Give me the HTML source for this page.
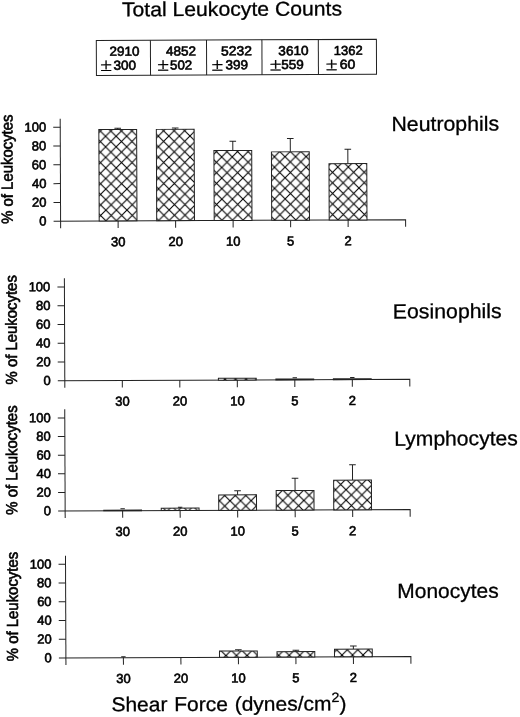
<!DOCTYPE html>
<html lang="en"><head><meta charset="utf-8"><title>Leukocyte counts</title>
<style>html,body{margin:0;padding:0;background:#fff}svg{display:block}text{font-family:"Liberation Sans", sans-serif;fill:#000;stroke:#000;stroke-width:.6px}.big{stroke-width:.3px}.ln{stroke:#222;stroke-width:1;fill:none}.bar{stroke:#222;stroke-width:1}</style></head><body>
<svg width="520" height="717" viewBox="0 0 520 717">
<rect width="520" height="717" fill="#fff"/>
<text class="big" transform="translate(121.9 16.25) rotate(-0.23)" font-size="20" textLength="220.2" lengthAdjust="spacingAndGlyphs">Total Leukocyte Counts</text>
<g transform="translate(96.3 40.5) rotate(-0.23)">
<rect class="ln" x="0" y="0" width="280.1" height="34.9"/>
<path class="ln" d="M54.1 0V34.9"/>
<path class="ln" d="M110.2 0V34.9"/>
<path class="ln" d="M165.6 0V34.9"/>
<path class="ln" d="M222 0V34.9"/>
<text x="13.1" y="15.4" font-size="13" textLength="30.0" lengthAdjust="spacingAndGlyphs">2910</text>
<text x="17.0" y="29.3" font-size="13" textLength="22.7" lengthAdjust="spacingAndGlyphs">300</text>
<text transform="translate(3.9 30.6) scale(1.16 1)" font-size="18.5" style="font-family:'Liberation Serif',serif;stroke-width:.25px">±</text>
<text x="69.6" y="15.4" font-size="13" textLength="30.1" lengthAdjust="spacingAndGlyphs">4852</text>
<text x="73.6" y="29.3" font-size="13" textLength="22.2" lengthAdjust="spacingAndGlyphs">502</text>
<text transform="translate(60.9 30.6) scale(1.16 1)" font-size="18.5" style="font-family:'Liberation Serif',serif;stroke-width:.25px">±</text>
<text x="124.6" y="15.4" font-size="13" textLength="30.9" lengthAdjust="spacingAndGlyphs">5232</text>
<text x="129.1" y="29.3" font-size="13" textLength="22.6" lengthAdjust="spacingAndGlyphs">399</text>
<text transform="translate(115.2 30.6) scale(1.16 1)" font-size="18.5" style="font-family:'Liberation Serif',serif;stroke-width:.25px">±</text>
<text x="182.0" y="15.4" font-size="13" textLength="30.3" lengthAdjust="spacingAndGlyphs">3610</text>
<text x="184.8" y="29.3" font-size="13" textLength="22.6" lengthAdjust="spacingAndGlyphs">559</text>
<text transform="translate(173.4 30.6) scale(1.16 1)" font-size="18.5" style="font-family:'Liberation Serif',serif;stroke-width:.25px">±</text>
<text x="237.4" y="15.4" font-size="13" textLength="28.9" lengthAdjust="spacingAndGlyphs">1362</text>
<text x="243.3" y="29.3" font-size="13" textLength="15.7" lengthAdjust="spacingAndGlyphs">60</text>
<text transform="translate(229.4 30.6) scale(1.16 1)" font-size="18.5" style="font-family:'Liberation Serif',serif;stroke-width:.25px">±</text>
</g>
<g transform="translate(60.6 221.15) rotate(-0.23)">
<defs><pattern id="hx0" x="3.1" y="-0.25" width="10.55" height="10.55" patternUnits="userSpaceOnUse"><rect width="10.55" height="10.55" fill="#fff"/><path d="M0 0L10.55 10.55M10.55 0L0 10.55M-1 9.55L1 11.55M9.55 -1L11.55 1" stroke="#000" stroke-width="1.08" fill="none"/></pattern></defs>
<path class="ln" d="M0 -102.45V7.1"/>
<path class="ln" d="M-7 0H345.0V7.1"/>
<path class="ln" d="M-7 -18.77H0M-7 -37.54H0M-7 -56.31H0M-7 -75.08H0M-7 -93.85H0"/>
<text x="-14.1" y="4.20" font-size="13" text-anchor="end">0</text>
<text x="-14.1" y="-14.57" font-size="13" text-anchor="end">20</text>
<text x="-14.1" y="-33.34" font-size="13" text-anchor="end">40</text>
<text x="-14.1" y="-52.11" font-size="13" text-anchor="end">60</text>
<text x="-14.1" y="-70.88" font-size="13" text-anchor="end">80</text>
<text x="-14.1" y="-89.65" font-size="13" text-anchor="end">100</text>
<path class="ln" d="M57.5 0V7.1"/>
<path class="ln" d="M57.5 -91.42V-92.72M54.2 -92.72H60.8"/>
<rect class="bar" x="38.60" y="-91.42" width="37.8" height="91.42" fill="url(#hx0)"/>
<text x="57.5" y="25.3" font-size="13" text-anchor="middle">30</text>
<path class="ln" d="M115.0 0V7.1"/>
<path class="ln" d="M115.0 -91.39V-92.69M111.7 -92.69H118.3"/>
<rect class="bar" x="96.10" y="-91.39" width="37.8" height="91.39" fill="url(#hx0)"/>
<text x="115.0" y="25.3" font-size="13" text-anchor="middle">20</text>
<path class="ln" d="M172.5 0V7.1"/>
<path class="ln" d="M172.5 -69.96V-79.26M169.2 -79.26H175.8"/>
<rect class="bar" x="153.60" y="-69.96" width="37.8" height="69.96" fill="url(#hx0)"/>
<text x="172.5" y="25.3" font-size="13" text-anchor="middle">10</text>
<path class="ln" d="M230.0 0V7.1"/>
<path class="ln" d="M230.0 -68.43V-81.73M226.7 -81.73H233.3"/>
<rect class="bar" x="211.10" y="-68.43" width="37.8" height="68.43" fill="url(#hx0)"/>
<text x="230.0" y="25.3" font-size="13" text-anchor="middle">5</text>
<path class="ln" d="M287.5 0V7.1"/>
<path class="ln" d="M287.5 -56.40V-70.70M284.2 -70.70H290.8"/>
<rect class="bar" x="268.60" y="-56.40" width="37.8" height="56.40" fill="url(#hx0)"/>
<text x="287.5" y="25.3" font-size="13" text-anchor="middle">2</text>
<text transform="translate(-47.8 2.5) rotate(-90)" font-size="16" textLength="109.3" lengthAdjust="spacingAndGlyphs" stroke-width=".18">% of Leukocytes</text>
<text class="big" x="331.20" y="-88.82" font-size="20.5" textLength="107.7" lengthAdjust="spacingAndGlyphs">Neutrophils</text>
</g>
<g transform="translate(64.8 380.75) rotate(-0.23)">
<defs><pattern id="hx1" x="1.95" y="-1.1" width="10.55" height="10.55" patternUnits="userSpaceOnUse"><rect width="10.55" height="10.55" fill="#fff"/><path d="M0 0L10.55 10.55M10.55 0L0 10.55M-1 9.55L1 11.55M9.55 -1L11.55 1" stroke="#000" stroke-width="1.08" fill="none"/></pattern></defs>
<path class="ln" d="M0 -102.45V7.1"/>
<path class="ln" d="M-7 0H345.0V7.1"/>
<path class="ln" d="M-7 -18.77H0M-7 -37.54H0M-7 -56.31H0M-7 -75.08H0M-7 -93.85H0"/>
<text x="-14.1" y="4.20" font-size="13" text-anchor="end">0</text>
<text x="-14.1" y="-14.57" font-size="13" text-anchor="end">20</text>
<text x="-14.1" y="-33.34" font-size="13" text-anchor="end">40</text>
<text x="-14.1" y="-52.11" font-size="13" text-anchor="end">60</text>
<text x="-14.1" y="-70.88" font-size="13" text-anchor="end">80</text>
<text x="-14.1" y="-89.65" font-size="13" text-anchor="end">100</text>
<path class="ln" d="M57.5 0V7.1"/>
<text x="57.5" y="25.3" font-size="13" text-anchor="middle">30</text>
<path class="ln" d="M115.0 0V7.1"/>
<text x="115.0" y="25.3" font-size="13" text-anchor="middle">20</text>
<path class="ln" d="M172.5 0V7.1"/>
<rect class="bar" x="153.60" y="-1.81" width="37.8" height="1.81" fill="url(#hx1)"/>
<text x="172.5" y="25.3" font-size="13" text-anchor="middle">10</text>
<path class="ln" d="M230.0 0V7.1"/>
<path class="ln" d="M230.0 -1.80V-2.03M227.8 -2.03H232.2"/>
<path d="M210.60 -0.40H249.40" stroke="#222" stroke-width="1.80"/>
<text x="230.0" y="25.3" font-size="13" text-anchor="middle">5</text>
<path class="ln" d="M287.5 0V7.1"/>
<path class="ln" d="M287.5 -1.80V-2.00M285.3 -2.00H289.7"/>
<path d="M268.10 -0.40H306.90" stroke="#222" stroke-width="1.80"/>
<text x="287.5" y="25.3" font-size="13" text-anchor="middle">2</text>
<text transform="translate(-47.8 3.5) rotate(-90)" font-size="16" textLength="109.3" lengthAdjust="spacingAndGlyphs" stroke-width=".18">% of Leukocytes</text>
<text class="big" x="328.30" y="-61.03" font-size="20.5" textLength="108.8" lengthAdjust="spacingAndGlyphs">Eosinophils</text>
</g>
<g transform="translate(65.15 511.0) rotate(-0.23)">
<defs><pattern id="hx2" x="6.65" y="0.95" width="10.55" height="10.55" patternUnits="userSpaceOnUse"><rect width="10.55" height="10.55" fill="#fff"/><path d="M0 0L10.55 10.55M10.55 0L0 10.55M-1 9.55L1 11.55M9.55 -1L11.55 1" stroke="#000" stroke-width="1.08" fill="none"/></pattern></defs>
<path class="ln" d="M0 -101.70V7.1"/>
<path class="ln" d="M-7 0H345.0V7.1"/>
<path class="ln" d="M-7 -18.62H0M-7 -37.24H0M-7 -55.86H0M-7 -74.48H0M-7 -93.10H0"/>
<text x="-14.1" y="4.20" font-size="13" text-anchor="end">0</text>
<text x="-14.1" y="-14.42" font-size="13" text-anchor="end">20</text>
<text x="-14.1" y="-33.04" font-size="13" text-anchor="end">40</text>
<text x="-14.1" y="-51.66" font-size="13" text-anchor="end">60</text>
<text x="-14.1" y="-70.28" font-size="13" text-anchor="end">80</text>
<text x="-14.1" y="-88.90" font-size="13" text-anchor="end">100</text>
<path class="ln" d="M57.5 0V7.1"/>
<path class="ln" d="M57.5 -1.70V-1.97M55.3 -1.97H59.7"/>
<path d="M38.10 -0.35H76.90" stroke="#222" stroke-width="1.70"/>
<text x="57.5" y="25.3" font-size="13" text-anchor="middle">30</text>
<path class="ln" d="M115.0 0V7.1"/>
<path class="ln" d="M115.0 -2.34V-3.24M112.8 -3.24H117.2"/>
<rect class="bar" x="96.10" y="-2.34" width="37.8" height="2.34" fill="url(#hx2)"/>
<text x="115.0" y="25.3" font-size="13" text-anchor="middle">20</text>
<path class="ln" d="M172.5 0V7.1"/>
<path class="ln" d="M172.5 -15.41V-19.51M169.2 -19.51H175.8"/>
<rect class="bar" x="153.60" y="-15.41" width="37.8" height="15.41" fill="url(#hx2)"/>
<text x="172.5" y="25.3" font-size="13" text-anchor="middle">10</text>
<path class="ln" d="M230.0 0V7.1"/>
<path class="ln" d="M230.0 -19.58V-31.78M226.7 -31.78H233.3"/>
<rect class="bar" x="211.10" y="-19.58" width="37.8" height="19.58" fill="url(#hx2)"/>
<text x="230.0" y="25.3" font-size="13" text-anchor="middle">5</text>
<path class="ln" d="M287.5 0V7.1"/>
<path class="ln" d="M287.5 -29.75V-45.05M284.2 -45.05H290.8"/>
<rect class="bar" x="268.60" y="-29.75" width="37.8" height="29.75" fill="url(#hx2)"/>
<text x="287.5" y="25.3" font-size="13" text-anchor="middle">2</text>
<text transform="translate(-47.8 3.5) rotate(-90)" font-size="16" textLength="109.3" lengthAdjust="spacingAndGlyphs" stroke-width=".18">% of Leukocytes</text>
<text class="big" x="329.45" y="-64.02" font-size="20.5" textLength="123.5" lengthAdjust="spacingAndGlyphs">Lymphocytes</text>
</g>
<g transform="translate(65.9 657.95) rotate(-0.23)">
<defs><pattern id="hx3" x="1.8" y="-1.75" width="10.55" height="10.55" patternUnits="userSpaceOnUse"><rect width="10.55" height="10.55" fill="#fff"/><path d="M0 0L10.55 10.55M10.55 0L0 10.55M-1 9.55L1 11.55M9.55 -1L11.55 1" stroke="#000" stroke-width="1.08" fill="none"/></pattern></defs>
<path class="ln" d="M0 -102.25V7.1"/>
<path class="ln" d="M-7 0H345.0V7.1"/>
<path class="ln" d="M-7 -18.73H0M-7 -37.46H0M-7 -56.19H0M-7 -74.92H0M-7 -93.65H0"/>
<text x="-14.1" y="4.20" font-size="13" text-anchor="end">0</text>
<text x="-14.1" y="-14.53" font-size="13" text-anchor="end">20</text>
<text x="-14.1" y="-33.26" font-size="13" text-anchor="end">40</text>
<text x="-14.1" y="-51.99" font-size="13" text-anchor="end">60</text>
<text x="-14.1" y="-70.72" font-size="13" text-anchor="end">80</text>
<text x="-14.1" y="-89.45" font-size="13" text-anchor="end">100</text>
<path class="ln" d="M57.5 0V7.1"/>
<path class="ln" d="M57.5 0.00V-0.87M55.3 -0.87H59.7"/>
<text x="57.5" y="25.3" font-size="13" text-anchor="middle">30</text>
<path class="ln" d="M115.0 0V7.1"/>
<text x="115.0" y="25.3" font-size="13" text-anchor="middle">20</text>
<path class="ln" d="M172.5 0V7.1"/>
<path class="ln" d="M172.5 -6.26V-7.56M169.2 -7.56H175.8"/>
<rect class="bar" x="153.60" y="-6.26" width="37.8" height="6.26" fill="url(#hx3)"/>
<text x="172.5" y="25.3" font-size="13" text-anchor="middle">10</text>
<path class="ln" d="M230.0 0V7.1"/>
<path class="ln" d="M230.0 -5.43V-6.83M226.7 -6.83H233.3"/>
<rect class="bar" x="211.10" y="-5.43" width="37.8" height="5.43" fill="url(#hx3)"/>
<text x="230.0" y="25.3" font-size="13" text-anchor="middle">5</text>
<path class="ln" d="M287.5 0V7.1"/>
<path class="ln" d="M287.5 -7.60V-10.80M284.2 -10.80H290.8"/>
<rect class="bar" x="268.60" y="-7.60" width="37.8" height="7.60" fill="url(#hx3)"/>
<text x="287.5" y="25.3" font-size="13" text-anchor="middle">2</text>
<text transform="translate(-47.8 3.0) rotate(-90)" font-size="16" textLength="109.3" lengthAdjust="spacingAndGlyphs" stroke-width=".18">% of Leukocytes</text>
<text class="big" x="331.60" y="-58.52" font-size="20.5" textLength="101.39999999999999" lengthAdjust="spacingAndGlyphs">Monocytes</text>
</g>
<text class="big" transform="translate(111.4 711.3) rotate(-0.23)" font-size="20" word-spacing=".9" textLength="235" lengthAdjust="spacingAndGlyphs">Shear Force (dynes/cm<tspan font-size="13.5" dy="-8.3">2</tspan><tspan dy="8.3">)</tspan></text>
</svg></body></html>
